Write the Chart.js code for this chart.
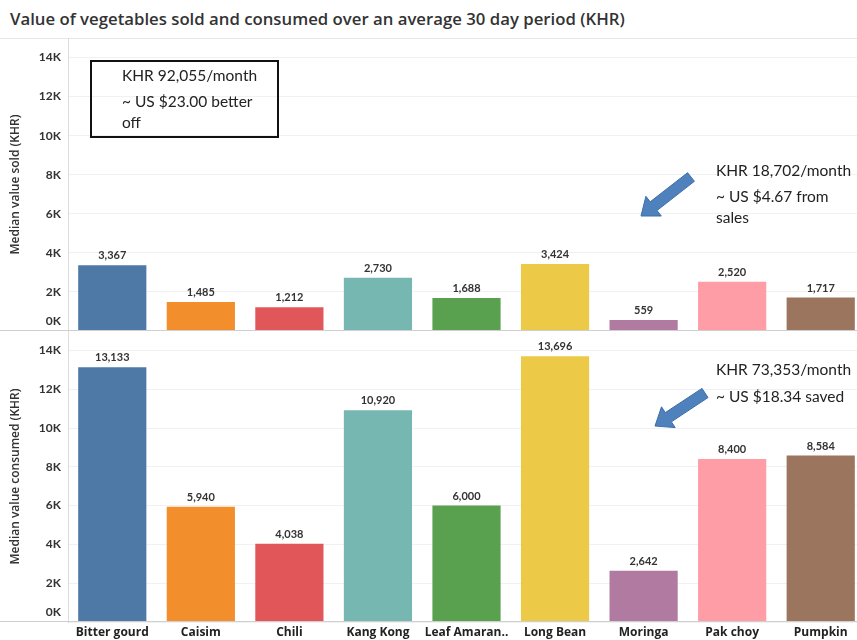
<!DOCTYPE html>
<html>
<head>
<meta charset="utf-8">
<script src="https://cdn.jsdelivr.net/npm/chart.js@4.4.1/dist/chart.umd.min.js"></script>
<style>
  html, body { margin: 0; padding: 0; background: #fff; overflow: hidden; }
  #page { position: relative; width: 857px; height: 640px; overflow: hidden; font-family: Lato, sans-serif; }
  #title { position: absolute; left: 10px; top: 7px; font: 600 16.75px "Open Sans", sans-serif; color: #333; white-space: nowrap; }
  #titleRule { position: absolute; left: 0; top: 38px; width: 857px; height: 1px; background: #e6e6e6; }
  .wrap { position: absolute; left: 0; width: 865px; }
  #topWrap { top: 38px; height: 293px; }
  #botWrap { top: 331px; height: 309px; }
  .note { position: absolute; font: 15.5px Lato, sans-serif; color: #222; line-height: 20px; white-space: nowrap; }
  #box { position: absolute; left: 90px; top: 60px; width: 185px; height: 74px; border: 2px solid #111; }
  svg { position: absolute; left: 0; top: 0; }
</style>
</head>
<body>
<div id="page">
  <div id="title">Value of vegetables sold and consumed over an average 30 day period (KHR)</div>
  <div id="titleRule"></div>
  <div class="wrap" id="topWrap"><canvas id="soldChart"></canvas></div>
  <div class="wrap" id="botWrap"><canvas id="consChart"></canvas></div>

  <div id="box"></div>
  <div class="note" style="left:122px; top:65px;">KHR 92,055/month</div>
  <div class="note" style="left:122px; top:91px;">~ US $23.00 better</div>
  <div class="note" style="left:122px; top:112px;">off</div>
  <div class="note" style="left:716px; top:160px;">KHR 18,702/month</div>
  <div class="note" style="left:716px; top:186px;">~ US $4.67 from</div>
  <div class="note" style="left:716px; top:207px;">sales</div>
  <div class="note" style="left:716px; top:359px;">KHR 73,353/month</div>
  <div class="note" style="left:716px; top:386px;">~ US $18.34 saved</div>

  <svg width="857" height="640">
    <g fill="#4f81bd" stroke="#3d6ea8" stroke-width="1">
      <polygon id="arrow1"></polygon>
      <polygon id="arrow2"></polygon>
    </g>
  </svg>
</div>

<script>
// ---------- Data ----------
const vegetables = ['Bitter gourd', 'Caisim', 'Chili', 'Kang Kong', 'Leaf Amaran..', 'Long Bean', 'Moringa', 'Pak choy', 'Pumpkin'];
const soldValues = [3367, 1485, 1212, 2730, 1688, 3424, 559, 2520, 1717];
const consumedValues = [13133, 5940, 4038, 10920, 6000, 13696, 2642, 8400, 8584];
const barColors = ['#4e79a7', '#f28e2b', '#e15759', '#76b7b2', '#59a14f', '#edc948', '#b07aa1', '#ff9da7', '#9c755f'];
const yTickValues = [0, 2000, 4000, 6000, 8000, 10000, 12000, 14000];

// ---------- Arrows (block arrow from tail to tip) ----------
function arrowPoints(x1, y1, x2, y2, shaft, head, headLen) {
  const dx = x2 - x1, dy = y2 - y1;
  const len = Math.hypot(dx, dy);
  const ux = dx / len, uy = dy / len;
  const px = -uy, py = ux;
  const bx = x2 - ux * headLen, by = y2 - uy * headLen;
  const pts = [
    [x1 + px * shaft / 2, y1 + py * shaft / 2],
    [bx + px * shaft / 2, by + py * shaft / 2],
    [bx + px * head / 2, by + py * head / 2],
    [x2, y2],
    [bx - px * head / 2, by - py * head / 2],
    [bx - px * shaft / 2, by - py * shaft / 2],
    [x1 - px * shaft / 2, y1 - py * shaft / 2]
  ];
  return pts.map(p => p[0].toFixed(1) + ',' + p[1].toFixed(1)).join(' ');
}
document.getElementById('arrow1').setAttribute('points', arrowPoints(691, 177, 641, 216, 11, 25, 16));
document.getElementById('arrow2').setAttribute('points', arrowPoints(705, 393, 655, 426, 11, 25, 16));

// ---------- Helpers ----------
const fmt = v => v.toLocaleString('en-US');
const tickFont = { family: 'Lato', size: 12, weight: 'bold' };

// value labels above bars, baseline across the full width, raised "0K" label
const barLabels = {
  id: 'barLabels',
  afterDatasetsDraw(chart) {
    const ctx = chart.ctx;
    const meta = chart.getDatasetMeta(0);
    ctx.save();
    ctx.font = 'bold 11px Lato';
    ctx.fillStyle = '#333';
    ctx.textAlign = 'center';
    ctx.textBaseline = 'bottom';
    meta.data.forEach((bar, i) => {
      ctx.fillText(fmt(chart.data.datasets[0].data[i]), bar.x, bar.y - 4);
    });
    const yScale = chart.scales.y;
    const y0 = Math.round(yScale.getPixelForValue(0)) - 0.5;
    ctx.strokeStyle = '#cfcfcf';
    ctx.lineWidth = 1;
    ctx.beginPath();
    ctx.moveTo(0, y0);
    ctx.lineTo(chart.width, y0);
    ctx.stroke();
    ctx.font = 'bold 12px Lato';
    ctx.textAlign = 'right';
    ctx.textBaseline = 'middle';
    ctx.fillText('0K', yScale.right - 7, y0 - 9);
    ctx.restore();
  }
};

function makeChart(canvasId, values, yTitle, showX) {
  return new Chart(document.getElementById(canvasId), {
    type: 'bar',
    data: {
      labels: vegetables,
      datasets: [{
        data: values,
        backgroundColor: barColors,
        borderWidth: 0,
        barPercentage: 0.77,
        categoryPercentage: 1
      }]
    },
    options: {
      responsive: true,
      maintainAspectRatio: false,
      animation: false,
      layout: { padding: 0 },
      plugins: { legend: { display: false }, tooltip: { enabled: false } },
      scales: {
        x: {
          display: showX,
          grid: { display: false, drawTicks: false },
          border: { display: false },
          ticks: { color: '#222', font: { family: 'Open Sans', size: 12, weight: 'bold' }, padding: 3, maxRotation: 0, autoSkip: false },
          afterFit: (s) => { s.height = showX ? 18 : 0; s.paddingLeft = 0; s.paddingRight = 0; }
        },
        y: {
          min: 0,
          max: 15000,
          afterBuildTicks: (s) => { s.ticks = yTickValues.map(v => ({ value: v })); },
          afterFit: (s) => { s.width = 68; s.paddingTop = 0; s.paddingBottom = 0; },
          grid: { color: '#f1f1f1', drawTicks: false },
          border: { display: true, color: '#dcdcdc' },
          ticks: {
            color: '#333',
            font: tickFont,
            padding: 7,
            callback: v => v === 0 ? '' : (v / 1000) + 'K'
          },
          title: {
            display: true,
            text: yTitle,
            color: '#333',
            font: { family: 'Open Sans', size: 12, weight: '600' },
            padding: { top: 8, bottom: 0 }
          }
        }
      }
    },
    plugins: [barLabels]
  });
}

makeChart('soldChart', soldValues, 'Median value sold (KHR)', false);
makeChart('consChart', consumedValues, 'Median value consumed (KHR)', true);
</script>
</body>
</html>
